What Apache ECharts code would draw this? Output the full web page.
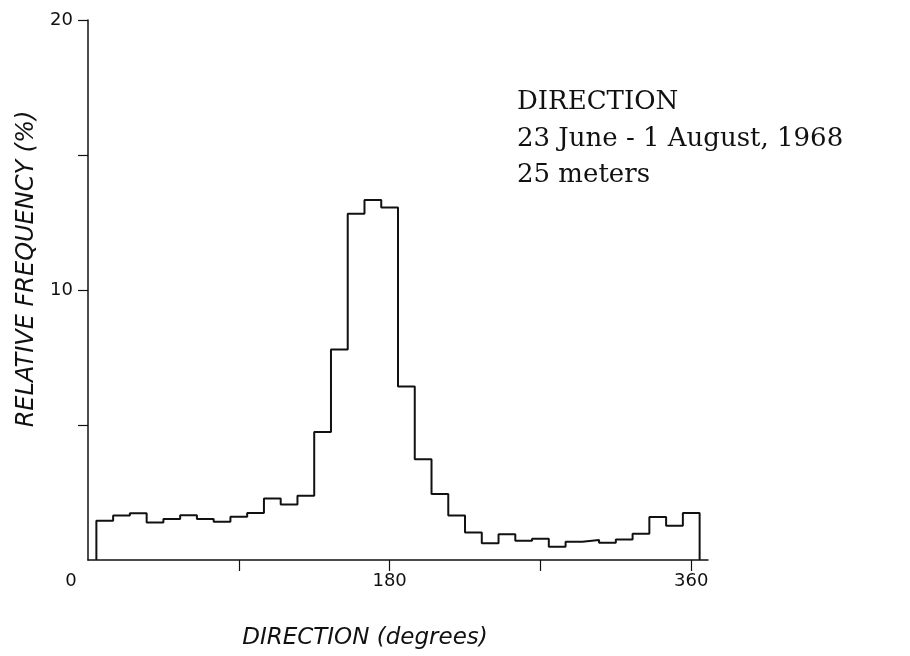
<!DOCTYPE html>
<html>
<head>
<meta charset="utf-8">
<title>Direction histogram</title>
<script src="https://cdn.jsdelivr.net/npm/echarts@6/dist/echarts.min.js"></script>
<style>
  html, body { margin: 0; padding: 0; background: #ffffff; }
  #chart { width: 910px; height: 656px; }
</style>
</head>
<body>
<div id="chart"></div>
<script>
// Current direction histogram, 10-degree bins centred on each multiple of 10
const binCenters = [10, 20, 30, 40, 50, 60, 70, 80, 90, 100, 110, 120,
                    130, 140, 150, 160, 170, 180, 190, 200, 210, 220, 230, 240,
                    250, 260, 270, 280, 290, 300, 310, 320, 330, 340, 350, 360];
const binWidth = 10;
// Relative frequency (%) of each bin
const relFreq = [1.45, 1.65, 1.73, 1.39, 1.52, 1.66, 1.52, 1.42, 1.60, 1.74, 2.28, 2.06,
                 2.38, 4.74, 7.80, 12.82, 13.33, 13.06, 6.43, 3.73, 2.44, 1.65, 1.02, 0.62,
                 0.95, 0.71, 0.79, 0.49, 0.68, 0.74, 0.64, 0.76, 0.97, 1.59, 1.27, 1.74];

const xTicks = [90, 180, 270, 360];
const xTickLabels = [0, 180, 360];
const yTicks = [5, 10, 15, 20];
const yTickLabels = [10, 20];

const noteLines = ['DIRECTION', '23 June - 1 August, 1968', '25 meters'];

// Outline of the histogram: bin edges joined by a stepped line
const half = binWidth / 2;
const outline = [[binCenters[0] - half, 0]];
binCenters.forEach((c, i) => outline.push([c + half, relFreq[i]]));
outline.push([binCenters[binCenters.length - 1] + half, 0]);

const ink = '#111111';
const sans = 'DejaVu Sans';

const chart = echarts.init(document.getElementById('chart'), null, { renderer: 'canvas' });
chart.setOption({
  backgroundColor: '#ffffff',
  animation: false,
  title: {
    text: noteLines.join('\n'),
    left: 512,
    top: 79,
    textStyle: {
      fontFamily: 'DejaVu Serif',
      fontSize: 26,
      fontWeight: 'normal',
      color: ink,
      lineHeight: 36.5
    }
  },
  grid: { left: 88, right: 202, top: 20, bottom: 96 },
  xAxis: {
    type: 'value',
    min: 0,
    max: 370,
    name: 'DIRECTION (degrees)',
    nameLocation: 'middle',
    nameGap: 67,
    nameTextStyle: {
      fontFamily: sans, fontStyle: 'italic', fontSize: 23, color: ink,
      padding: [0, 66, 0, 0]
    },
    axisLine: { show: true, lineStyle: { color: ink, width: 1.5 } },
    axisTick: { show: true, customValues: xTicks, length: 11, inside: false,
                lineStyle: { color: ink, width: 1.2 } },
    axisLabel: {
      customValues: xTickLabels,
      margin: 12,
      fontFamily: sans,
      fontSize: 18,
      color: ink,
      formatter: v => (v === 0 ? '{o|0}' : String(v)),
      rich: { o: { fontFamily: sans, fontSize: 18, color: ink, padding: [0, 34, 0, 0] } }
    },
    splitLine: { show: false }
  },
  yAxis: {
    type: 'value',
    min: 0,
    max: 20,
    interval: 5,
    name: 'RELATIVE FREQUENCY (%)',
    nameLocation: 'middle',
    nameRotate: 90,
    nameGap: 47,
    nameTextStyle: {
      fontFamily: sans, fontStyle: 'italic', fontSize: 24, color: ink,
      padding: [0, 0, 0, 42]
    },
    axisLine: { show: true, lineStyle: { color: ink, width: 1.5 } },
    axisTick: { show: true, customValues: yTicks, length: 10,
                lineStyle: { color: ink, width: 1.2 } },
    axisLabel: {
      customValues: yTickLabels,
      margin: 15,
      fontFamily: sans,
      fontSize: 18,
      color: ink
    },
    splitLine: { show: false }
  },
  series: [{
    type: 'line',
    step: 'start',
    data: outline,
    symbol: 'none',
    clip: false,
    lineStyle: { color: ink, width: 2 },
    silent: true
  }]
});
</script>
</body>
</html>
